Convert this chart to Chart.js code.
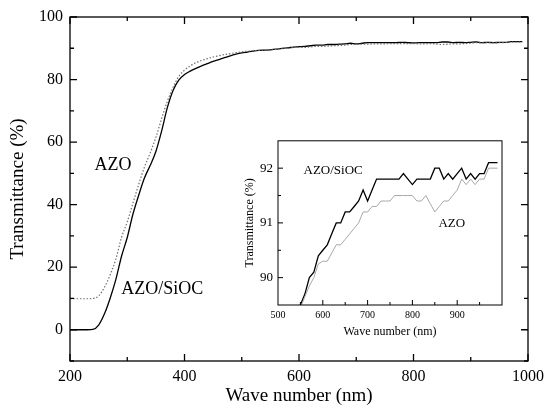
<!DOCTYPE html>
<html>
<head>
<meta charset="utf-8">
<script src="https://cdn.jsdelivr.net/npm/chart.js@4.4.1/dist/chart.umd.min.js"></script>
<style>
  html, body { margin: 0; padding: 0; background: #fff; }
  #wrap { position: relative; width: 550px; height: 412px; }
  #main { position: absolute; left: 0; top: 0; }
  #inset { position: absolute; left: 240px; top: 128px; background: #fff; }
</style>
</head>
<body>
<div id="wrap">
  <canvas id="main" width="550" height="412"></canvas>
  <canvas id="inset" width="270" height="215"></canvas>
</div>
<script>
// wavelength (nm)
const waveNm = [200, 210, 220, 230, 240, 250, 260, 270, 280, 290,
  300, 310, 320, 330, 340, 350, 360, 370, 380, 390,
  400, 410, 420, 430, 440, 450, 460, 470, 480, 490,
  500, 510, 520, 530, 540, 550, 560, 570, 580, 590,
  600, 610, 620, 630, 640, 650, 660, 670, 680, 690,
  700, 710, 720, 730, 740, 750, 760, 770, 780, 790,
  800, 810, 820, 830, 840, 850, 860, 870, 880, 890,
  900, 910, 920, 930, 940, 950, 960, 970, 980, 990];

// transmittance (%) AZO/SiOC
const azoSioc = [0, 0, 0, 0, 0.1, 1.5, 5, 10, 16, 23.5,
  29.5, 37, 43, 48.5, 52.5, 57, 63.5, 71, 76.5, 79.8,
  81.6, 82.7, 83.6, 84.4, 85.1, 85.8, 86.4, 87, 87.6, 88.1,
  88.5, 88.8, 89.1, 89.3, 89.4, 89.5, 89.7, 90.0, 90.1, 90.4,
  90.5, 90.6, 90.8, 91.0, 91.0, 91.2, 91.2, 91.3, 91.4, 91.6,
  91.4, 91.6, 91.8, 91.8, 91.8, 91.8, 91.8, 91.8, 91.9, 91.8,
  91.7, 91.8, 91.8, 91.8, 91.8, 92.0, 92.0, 91.8, 91.9, 91.8,
  91.9, 92.0, 91.8, 91.9, 91.8, 91.9, 91.9, 92.1, 92.1, 92.1];

// transmittance (%) AZO
const azo = [9.9, 9.9, 9.9, 9.9, 10, 10.8, 13.5, 17.5, 22.5, 29.5,
  34.5, 40.5, 46.5, 52, 56.5, 61.5, 67.5, 73, 77.5, 81,
  83, 84.4, 85.4, 86.1, 86.7, 87.2, 87.6, 88, 88.3, 88.6,
  88.85, 89.05, 89.2, 89.3, 89.4, 89.45, 89.65, 89.85, 90.0, 90.25,
  90.3, 90.3, 90.45, 90.6, 90.6, 90.7, 90.8, 90.9, 91.0, 91.2,
  91.2, 91.3, 91.3, 91.4, 91.4, 91.4, 91.5, 91.5, 91.5, 91.5,
  91.5, 91.4, 91.4, 91.5, 91.35, 91.2, 91.3, 91.4, 91.4, 91.5,
  91.6, 91.8, 91.7, 91.8, 91.7, 91.8, 91.8, 92.0, 92.0, 92.0];

// ticks
const mainXTicks = [200, 400, 600, 800, 1000];
const mainXMinor = [300, 500, 700, 900];
const mainYTicks = [0, 20, 40, 60, 80, 100];
const mainYMinor = [-10, 10, 30, 50, 70, 90];
const insetXTicks = [500, 600, 700, 800, 900];
const insetXMajor = [600, 700, 800, 900];
const insetXMinor = [550, 650, 750, 850, 950];
const insetYTicks = [90, 91, 92];
const insetYMinor = [90.5, 91.5];

const serif = 'Liberation Serif';
const points = arr => waveNm.map((x, i) => ({ x: x, y: arr[i] }));
const plain = v => String(v);

// frame + inward tick marks
const boxTicks = {
  id: 'boxTicks',
  afterDraw(chart, args, o) {
    const { ctx, chartArea: a, scales: { x, y } } = chart;
    ctx.save();
    ctx.strokeStyle = '#000';
    ctx.lineWidth = o.width;
    ctx.strokeRect(a.left, a.top, a.right - a.left, a.bottom - a.top);
    ctx.beginPath();
    [[o.xMajor, o.major], [o.xMinor, o.minor]].forEach(([vals, len]) => vals.forEach(v => {
      const px = x.getPixelForValue(v);
      if (o.sides.includes('bottom')) { ctx.moveTo(px, a.bottom); ctx.lineTo(px, a.bottom - len); }
      if (o.sides.includes('top')) { ctx.moveTo(px, a.top); ctx.lineTo(px, a.top + len); }
    }));
    [[o.yMajor, o.major], [o.yMinor, o.minor]].forEach(([vals, len]) => vals.forEach(v => {
      const py = y.getPixelForValue(v);
      if (o.sides.includes('left')) { ctx.moveTo(a.left, py); ctx.lineTo(a.left + len, py); }
      if (o.sides.includes('right')) { ctx.moveTo(a.right, py); ctx.lineTo(a.right - len, py); }
    }));
    ctx.stroke();
    ctx.restore();
  }
};

// curve names placed in data coordinates
const textLabels = {
  id: 'textLabels',
  afterDatasetsDraw(chart, args, o) {
    const { ctx, scales: { x, y } } = chart;
    ctx.save();
    ctx.fillStyle = '#000';
    ctx.textAlign = 'center';
    ctx.textBaseline = 'middle';
    ctx.font = o.font;
    o.items.forEach(it => ctx.fillText(it.text, x.getPixelForValue(it.x), y.getPixelForValue(it.y)));
    ctx.restore();
  }
};

const noGrid = { display: false, drawTicks: false };

new Chart(document.getElementById('main'), {
  type: 'line',
  data: {
    datasets: [{
      label: 'AZO',
      data: points(azo),
      borderColor: '#707070',
      borderWidth: 1.2,
      borderDash: [1.5, 1.8],
      pointRadius: 0,
      cubicInterpolationMode: 'monotone'
    }, {
      label: 'AZO/SiOC',
      data: points(azoSioc),
      borderColor: '#000',
      borderWidth: 1.3,
      pointRadius: 0,
      cubicInterpolationMode: 'monotone'
    }]
  },
  options: {
    responsive: false,
    animation: false,
    devicePixelRatio: 1,
    layout: { padding: { top: 17, right: 19, left: 0, bottom: 0 } },
    plugins: {
      legend: { display: false },
      tooltip: { enabled: false },
      boxTicks: {
        width: 1.3, major: 7, minor: 4, sides: ['bottom', 'top', 'left', 'right'],
        xMajor: mainXTicks, xMinor: mainXMinor, yMajor: mainYTicks, yMinor: mainYMinor
      },
      textLabels: {
        font: '18px "' + serif + '"',
        items: [{ text: 'AZO', x: 275, y: 52.7 }, { text: 'AZO/SiOC', x: 361, y: 12.8 }]
      }
    },
    scales: {
      x: {
        type: 'linear', min: 200, max: 1000,
        afterBuildTicks: s => { s.ticks = mainXTicks.map(v => ({ value: v })); },
        afterFit: s => { s.height = 51; },
        grid: noGrid, border: { display: false },
        ticks: { padding: 6, color: '#000', maxRotation: 0, autoSkip: false, callback: plain, font: { family: serif, size: 16 } },
        title: { display: true, text: 'Wave number (nm)', color: '#000', font: { family: serif, size: 19 }, padding: { top: 0, bottom: 5 } }
      },
      y: {
        min: -10, max: 100,
        afterBuildTicks: s => { s.ticks = mainYTicks.map(v => ({ value: v })); },
        afterFit: s => { s.width = 70; },
        grid: noGrid, border: { display: false },
        ticks: { padding: 7, color: '#000', callback: plain, font: { family: serif, size: 16 } },
        title: { display: true, text: 'Transmittance (%)', color: '#000', font: { family: serif, size: 19 }, padding: { top: 7, bottom: 0 } }
      }
    }
  },
  plugins: [boxTicks, textLabels]
});

new Chart(document.getElementById('inset'), {
  type: 'line',
  data: {
    datasets: [{
      label: 'AZO',
      data: points(azo),
      borderColor: '#a8a8a8',
      borderWidth: 1,
      pointRadius: 0,
      tension: 0
    }, {
      label: 'AZO/SiOC',
      data: points(azoSioc),
      borderColor: '#000',
      borderWidth: 1.3,
      pointRadius: 0,
      tension: 0
    }]
  },
  options: {
    responsive: false,
    animation: false,
    devicePixelRatio: 1,
    layout: { padding: { top: 9, right: 8, left: 0, bottom: 0 } },
    plugins: {
      legend: { display: false },
      tooltip: { enabled: false },
      boxTicks: {
        width: 1, major: 5, minor: 3, sides: ['bottom', 'left'],
        xMajor: insetXMajor, xMinor: insetXMinor, yMajor: insetYTicks, yMinor: insetYMinor
      },
      textLabels: {
        font: '13px "' + serif + '"',
        items: [{ text: 'AZO/SiOC', x: 623, y: 91.96 }, { text: 'AZO', x: 888, y: 90.98 }]
      }
    },
    scales: {
      x: {
        type: 'linear', min: 500, max: 1000,
        afterBuildTicks: s => { s.ticks = insetXTicks.map(v => ({ value: v })); },
        afterFit: s => { s.height = 38; },
        grid: noGrid, border: { display: false },
        ticks: { padding: 4, color: '#000', maxRotation: 0, autoSkip: false, callback: plain, font: { family: serif, size: 10 } },
        title: { display: true, text: 'Wave number (nm)', color: '#000', font: { family: serif, size: 12 }, padding: { top: 0, bottom: 4 } }
      },
      y: {
        min: 89.5, max: 92.5,
        afterBuildTicks: s => { s.ticks = insetYTicks.map(v => ({ value: v })); },
        afterFit: s => { s.width = 38; },
        grid: noGrid, border: { display: false },
        ticks: { padding: 5, color: '#000', callback: plain, font: { family: serif, size: 13 } },
        title: { display: true, text: 'Transmittance (%)', color: '#000', font: { family: serif, size: 12 }, padding: { top: 3, bottom: 0 } }
      }
    }
  },
  plugins: [boxTicks, textLabels]
});
</script>
</body>
</html>
